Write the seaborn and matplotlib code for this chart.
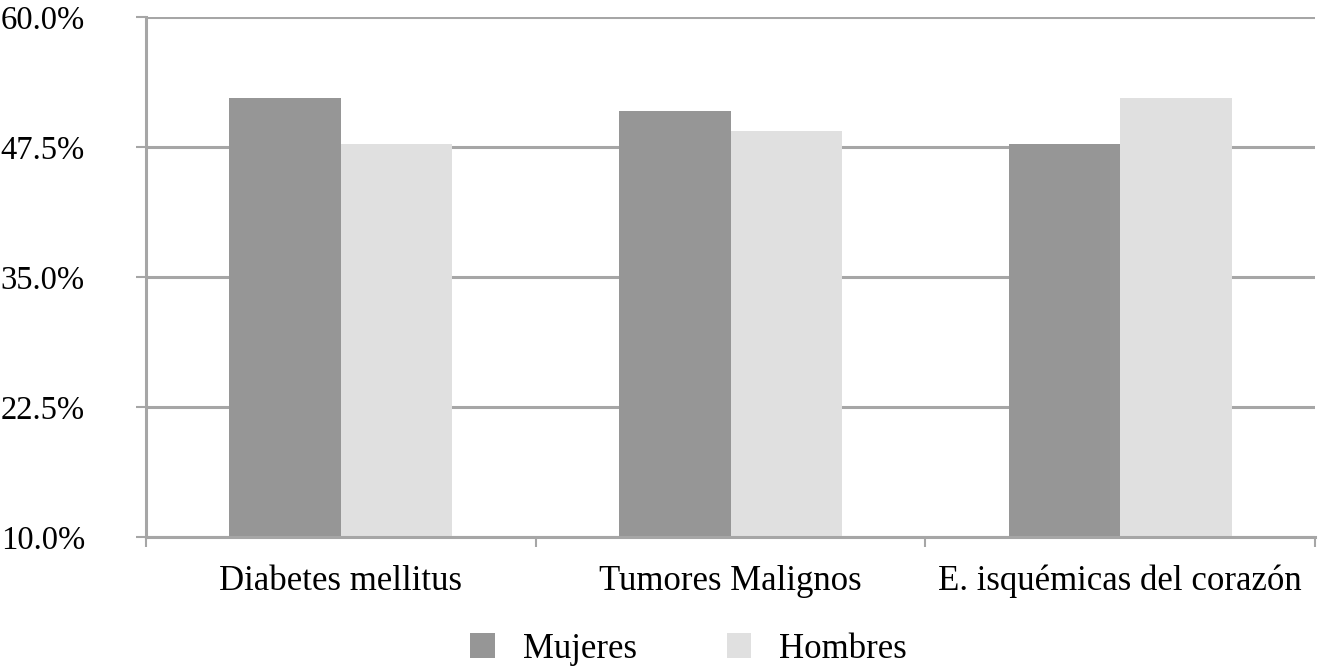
import pandas as pd
import numpy as np
import matplotlib
matplotlib.use("Agg")
import matplotlib.pyplot as plt
import seaborn as sns
from matplotlib.patches import Patch

# Data (percent)
categories = ["Diabetes mellitus", "Tumores Malignos", "E. isquémicas del corazón"]
mujeres = [52.2, 51.0, 47.8]
hombres = [47.8, 49.0, 52.2]
series = ["Mujeres", "Hombres"]
y_ticks = [10.0, 22.5, 35.0, 47.5, 60.0]

df = pd.DataFrame({
    "causa": categories * 2,
    "sexo": [series[0]] * 3 + [series[1]] * 3,
    "valor": mujeres + hombres,
})

sns.set_theme(style="white")
plt.rcParams["font.family"] = ["Liberation Serif", "DejaVu Serif"]
plt.rcParams["text.color"] = "black"

GRID = "#a6a6a6"
FS = 25
palette = {"Mujeres": "#969696", "Hombres": "#e0e0e0"}

fig = plt.figure(figsize=(13.19, 6.68), dpi=100)
ax = fig.add_axes([146 / 1319, 1 - 537 / 668, (1315 - 146) / 1319, (537 - 17) / 668])

sns.barplot(data=df, x="causa", y="valor", hue="sexo", palette=palette,
            width=0.573, gap=0, linewidth=0, saturation=1, ax=ax, legend=False)

ax.set_ylim(10, 60)
ax.set_xlim(-0.5, 2.5)
ax.set_yticks(y_ticks)
ax.set_yticklabels([f"{v:.1f}%" for v in y_ticks], fontsize=23.5)
ax.set_xlabel("")
ax.set_ylabel("")

# category labels without marks, boundary ticks as minor ticks
ax.tick_params(axis="x", which="major", bottom=False, length=0, pad=20, labelsize=FS)
ax.set_xticks(np.arange(-0.5, 3.0, 1.0), minor=True)
ax.tick_params(axis="x", which="minor", bottom=True, length=7, width=1.5,
               color=GRID, direction="out")
ax.tick_params(axis="y", left=True, length=7, width=1.5, color=GRID,
               direction="out", pad=37, labelcolor="black")
ax.tick_params(axis="x", labelcolor="black")

# horizontal gridlines behind bars
ax.set_axisbelow(True)
ax.yaxis.grid(True, color=GRID, linewidth=2.2)
ax.xaxis.grid(False)

for side in ["top", "right"]:
    ax.spines[side].set_visible(False)
for side in ["left", "bottom"]:
    ax.spines[side].set_color(GRID)
    ax.spines[side].set_linewidth(2.2)

# legend at the bottom
handles = [Patch(facecolor=palette[s], edgecolor="none", label=s) for s in series]
fig.legend(handles=handles, loc="center", bbox_to_anchor=(0.522, 1 - 649 / 668),
           ncol=2, frameon=False, fontsize=FS, handlelength=0.7, handleheight=0.7,
           handletextpad=0.8, columnspacing=2.6, labelcolor="black")

fig.savefig("out.png", dpi=100)
